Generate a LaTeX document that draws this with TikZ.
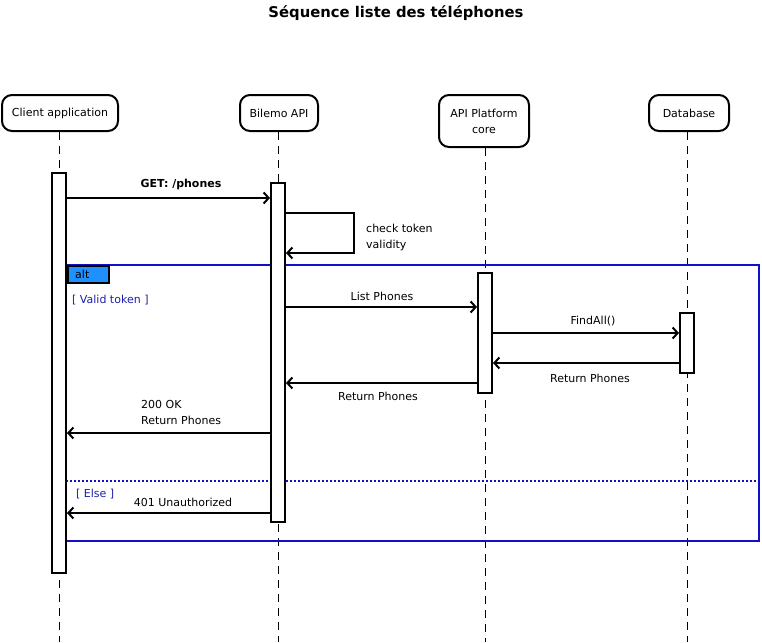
\documentclass[tikz,border=0pt]{standalone}
\usepackage{fontspec}
\setmainfont{DejaVu Sans}
\usetikzlibrary{arrows.meta}
\definecolor{frameblue}{RGB}{16,16,200}
\definecolor{guardblue}{RGB}{30,30,170}
\definecolor{tagblue}{RGB}{30,144,255}
\begin{document}
\begin{tikzpicture}[x=1pt,y=-1pt,
  lbl/.style={font=\fontsize{11}{13}\selectfont, inner sep=0pt},
  head/.style={draw, line width=2pt, rounded corners=10pt, align=center, font=\fontsize{11}{16}\selectfont, inner sep=0pt},
  bar/.style={draw, fill=white, line width=2pt, minimum width=14pt, inner sep=0pt},
  life/.style={line width=1pt, dash pattern=on 8pt off 6pt},
  msg/.style={line width=2pt, -{Straight Barb[length=5pt,width=11pt,line width=2pt]}},
  frameline/.style={draw=frameblue, line width=2pt}
]
\useasboundingbox (0,0) rectangle (762,642);
\coordinate (bot) at (0,642);

\node[font=\bfseries\fontsize{14.8}{17}\selectfont] (title) at (396,13) {Séquence liste des téléphones};

% heads
\node[head, minimum width=116pt, minimum height=36pt] (ca) at (60,113) {Client application};
\node[head, minimum width=78pt, minimum height=36pt] (bl) at (279,113) {Bilemo API};
\node[head, minimum width=90pt, minimum height=52pt] (ap) at (484,121) {API Platform\\core};
\node[head, minimum width=80pt, minimum height=36pt] (db) at (689,113) {Database};

% lifelines
\draw[life] (ca.south -| 59,0) -- (bot -| 59,0);
\draw[life] (bl.south -| 278,0) -- (bot -| 278,0);
\draw[life] (ap.south -| 485,0) -- (bot -| 485,0);
\draw[life] (db.south -| 687,0) -- (bot -| 687,0);

% frame
\draw[frameline] (66,265) rectangle (759,541);
\draw[draw=frameblue, line width=2pt, dash pattern=on 2pt off 2pt] (66,481) -- (759,481);
\node[draw, line width=1.8pt, fill=tagblue, minimum width=41pt, minimum height=17pt, inner sep=0pt] (tag) at (88.5,274.5) {};
\node[lbl, anchor=west] (alt) at (75,274.5) {alt};
\node[lbl, anchor=west, text=guardblue] (g1) at (72,300) {[ Valid token ]};
\node[lbl, anchor=west, text=guardblue] (g2) at (76,494) {[ Else ]};

% activation bars
\node[bar, minimum height=400pt] (caBar) at (59,373) {};
\node[bar, minimum height=339pt] (blBar) at (278,352.5) {};
\node[bar, minimum height=120pt] (apBar) at (485,333) {};
\node[bar, minimum height=60pt] (dbBar) at (687,343) {};

% messages
\draw[msg] (caBar.east |- 0,198) -- (blBar.west |- 0,198);
\node[lbl, font=\bfseries\fontsize{11}{13}\selectfont] (m1) at (181,184) {GET: /phones};

\draw[msg] (blBar.east |- 0,213) -- (354,213) -- (354,253) -- (blBar.east |- 0,253);
\node[lbl, anchor=west, align=left, font=\fontsize{11}{16}\selectfont] (m2) at (366,237) {check token\\validity};

\draw[msg] (blBar.east |- 0,307) -- (apBar.west |- 0,307);
\node[lbl] (m3) at (382,296) {List Phones};

\draw[msg] (apBar.east |- 0,333) -- (dbBar.west |- 0,333);
\node[lbl] (m4) at (593,321) {FindAll()};

\draw[msg] (dbBar.west |- 0,363) -- (apBar.east |- 0,363);
\node[lbl] (m5) at (590,378) {Return Phones};

\draw[msg] (apBar.west |- 0,383) -- (blBar.east |- 0,383);
\node[lbl] (m6) at (378,396) {Return Phones};

\draw[msg] (blBar.west |- 0,433) -- (caBar.east |- 0,433);
\node[lbl, anchor=west, align=left, font=\fontsize{11}{16}\selectfont] (m7) at (141,412) {200 OK\\Return Phones};

\draw[msg] (blBar.west |- 0,513) -- (caBar.east |- 0,513);
\node[lbl] (m8) at (183,502) {401 Unauthorized};
\end{tikzpicture}
\end{document}
